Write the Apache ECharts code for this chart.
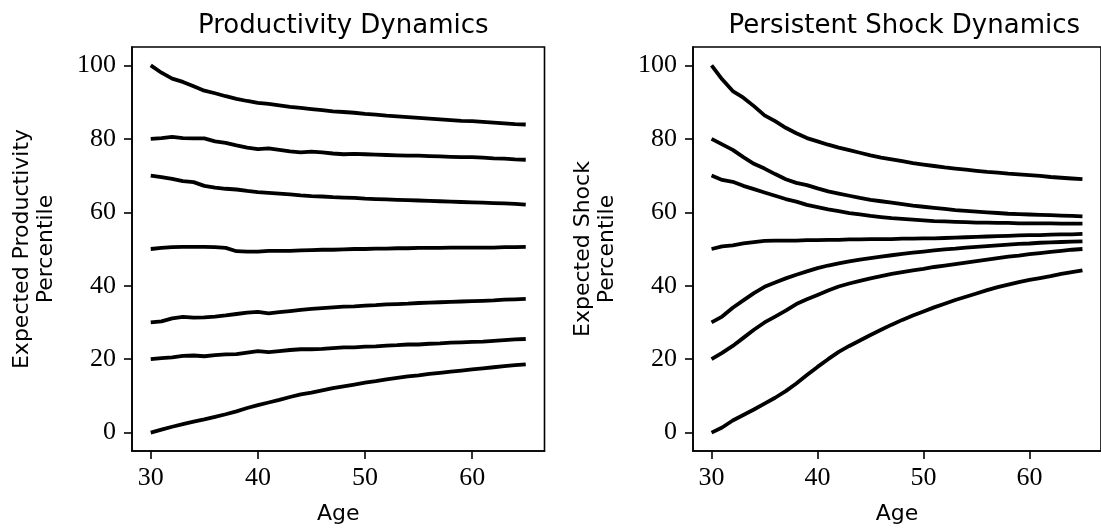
<!DOCTYPE html>
<html>
<head>
<meta charset="utf-8">
<script src="https://cdn.jsdelivr.net/npm/echarts@6/dist/echarts.min.js"></script>
<style>
html,body{margin:0;padding:0;background:#fff;}
#chart{width:1101px;height:531px;}
</style>
</head>
<body>
<div id="chart"></div>
<script>
const ages = [30,31,32,33,34,35,36,37,38,39,40,41,42,43,44,45,46,47,48,49,50,51,52,53,54,55,56,57,58,59,60,61,62,63,64,65];

// Productivity Dynamics (left panel)
const prod100 = [100,98,96.4,95.5,94.3,93.1,92.4,91.6,90.9,90.3,89.8,89.5,89.1,88.7,88.4,88.1,87.8,87.5,87.3,87.1,86.8,86.6,86.3,86.1,85.9,85.7,85.5,85.3,85.1,84.9,84.8,84.6,84.4,84.2,84.0,83.9];
const prod80 = [80,80.2,80.5,80.2,80.1,80.1,79.3,78.9,78.2,77.6,77.2,77.4,77.0,76.6,76.3,76.5,76.3,76.0,75.8,75.9,75.8,75.7,75.6,75.5,75.4,75.4,75.3,75.2,75.1,75.0,75.0,74.9,74.7,74.6,74.4,74.3];
const prod70 = [70,69.6,69.1,68.5,68.2,67.2,66.7,66.4,66.2,65.8,65.5,65.3,65.1,64.9,64.6,64.4,64.3,64.1,64.0,63.9,63.7,63.6,63.5,63.4,63.3,63.2,63.1,63.0,62.9,62.8,62.7,62.6,62.5,62.4,62.3,62.1];
const prod50 = [50,50.3,50.5,50.6,50.6,50.6,50.5,50.3,49.4,49.3,49.3,49.5,49.5,49.5,49.6,49.7,49.8,49.8,49.9,50.0,50.0,50.1,50.1,50.2,50.2,50.3,50.3,50.3,50.4,50.4,50.4,50.4,50.4,50.5,50.5,50.6];
const prod30 = [30,30.3,31.1,31.5,31.3,31.4,31.6,31.9,32.3,32.7,32.9,32.5,32.8,33.1,33.4,33.7,33.9,34.1,34.3,34.4,34.6,34.7,34.9,35.0,35.1,35.3,35.4,35.5,35.6,35.7,35.8,35.9,36.0,36.2,36.3,36.4];
const prod20 = [20,20.3,20.5,20.9,21.0,20.8,21.1,21.3,21.4,21.8,22.2,21.9,22.2,22.5,22.7,22.7,22.8,23.0,23.2,23.2,23.4,23.5,23.7,23.8,24.0,24.0,24.2,24.3,24.5,24.6,24.7,24.8,25.0,25.2,25.4,25.5];
const prod0 = [0,0.8,1.6,2.3,3.0,3.6,4.3,5.0,5.8,6.7,7.5,8.2,8.9,9.7,10.4,10.9,11.5,12.1,12.6,13.1,13.6,14.0,14.5,14.9,15.3,15.6,16.0,16.3,16.6,16.9,17.2,17.5,17.8,18.1,18.4,18.6];

// Persistent Shock Dynamics (right panel)
const shock100 = [100,96.2,93.0,91.2,88.9,86.4,84.8,83.0,81.5,80.2,79.3,78.4,77.6,76.9,76.2,75.5,74.9,74.4,73.9,73.4,73.0,72.6,72.2,71.9,71.6,71.3,71.0,70.8,70.5,70.3,70.1,69.9,69.6,69.4,69.2,69.0];
const shock80 = [80,78.5,77.0,75.0,73.2,71.9,70.4,69.0,68.0,67.4,66.5,65.7,65.1,64.5,63.9,63.4,63.0,62.6,62.2,61.8,61.5,61.2,60.9,60.6,60.4,60.2,60.0,59.8,59.6,59.5,59.4,59.3,59.2,59.1,59.0,58.9];
const shock70 = [70,68.8,68.3,67.2,66.3,65.4,64.5,63.6,62.9,62.0,61.4,60.8,60.3,59.8,59.4,59.0,58.7,58.4,58.2,58.0,57.8,57.6,57.5,57.4,57.3,57.2,57.2,57.1,57.1,57.0,57.0,57.0,57.0,56.9,56.9,56.9];
const shock50 = [50,50.7,51.0,51.5,51.9,52.2,52.3,52.3,52.3,52.4,52.4,52.5,52.5,52.6,52.6,52.7,52.7,52.7,52.8,52.8,52.9,52.9,53.0,53.1,53.2,53.3,53.4,53.5,53.6,53.7,53.8,53.8,53.9,54.0,54.0,54.1];
const shock30 = [30,31.6,34.0,36.0,38.0,39.7,40.9,42.0,43.0,43.9,44.8,45.5,46.1,46.6,47.1,47.5,47.9,48.3,48.7,49.0,49.3,49.6,49.9,50.1,50.4,50.6,50.8,51.0,51.2,51.4,51.5,51.7,51.8,51.9,52.0,52.1];
const shock20 = [20,21.7,23.6,25.8,28.0,30.0,31.6,33.2,35.0,36.3,37.5,38.7,39.8,40.6,41.3,42.0,42.6,43.2,43.7,44.2,44.6,45.1,45.5,45.9,46.3,46.7,47.1,47.5,47.9,48.2,48.6,48.9,49.2,49.5,49.8,50.0];
const shock0 = [0,1.4,3.3,4.8,6.3,7.9,9.5,11.3,13.4,15.7,17.9,20.0,22.0,23.6,25.1,26.6,28.0,29.4,30.7,31.9,33.0,34.1,35.1,36.1,37.0,37.9,38.8,39.6,40.3,41.0,41.6,42.1,42.6,43.2,43.7,44.2];

const xTicks = [30,40,50,60];
const yTicks = [0,20,40,60,80,100];
const titles = ['Productivity Dynamics','Persistent Shock Dynamics'];
const yNames = ['Expected Productivity\nPercentile','Expected Shock\nPercentile'];
const xName = 'Age';

const leftLines = [prod100,prod80,prod70,prod50,prod30,prod20,prod0];
const rightLines = [shock100,shock80,shock70,shock50,shock30,shock20,shock0];

const serifFont = '"Liberation Serif", "DejaVu Serif", serif';
const sansFont = '"DejaVu Sans", sans-serif';

const grids = [
  {left:132, top:47, width:412.5, height:404},
  {left:693, top:47, width:412.5, height:404}
];

function makeX(i){
  return {
    type:'value', gridIndex:i, min:28.25, max:66.75,
    name:xName, nameLocation:'middle', nameGap:52,
    nameTextStyle:{fontFamily:sansFont, fontSize:22, color:'#000'},
    axisLine:{show:true, onZero:false, lineStyle:{color:'#000', width:1.6}},
    axisTick:{show:true, inside:false, length:8, lineStyle:{color:'#000', width:1.6}, customValues:xTicks},
    axisLabel:{show:true, margin:14, fontFamily:serifFont, fontSize:26, color:'#000', customValues:xTicks},
    splitLine:{show:false}
  };
}
function makeY(i){
  return {
    type:'value', gridIndex:i, min:-5, max:105,
    name:yNames[i], nameLocation:'middle', nameRotate:90, nameGap:74,
    nameTextStyle:{fontFamily:sansFont, fontSize:22, color:'#000', lineHeight:24, align:'center'},
    axisLine:{show:true, onZero:false, lineStyle:{color:'#000', width:1.6}},
    axisTick:{show:true, inside:false, length:8, lineStyle:{color:'#000', width:1.6}, customValues:yTicks},
    axisLabel:{show:true, margin:16, fontFamily:serifFont, fontSize:26, color:'#000', customValues:yTicks},
    splitLine:{show:false}
  };
}

const series = [];
[leftLines, rightLines].forEach((lines, gi) => {
  lines.forEach(vals => {
    series.push({
      type:'line', xAxisIndex:gi, yAxisIndex:gi,
      data: ages.map((a, k) => [a, vals[k]]),
      showSymbol:false, symbol:'none', smooth:false, silent:true,
      lineStyle:{color:'#000', width:3.8, cap:'butt', join:'round'},
      animation:false
    });
  });
});

const chart = echarts.init(document.getElementById('chart'), null, {renderer:'canvas'});
chart.setOption({
  animation:false,
  backgroundColor:'#fff',
  title: titles.map((t, i) => ({
    text:t, left: grids[i].left + grids[i].width/2, top:8, textAlign:'center',
    textStyle:{fontFamily:sansFont, fontSize:26, fontWeight:'normal', color:'#000'}
  })),
  grid: grids.map(g => Object.assign({show:true, borderColor:'#000', borderWidth:1.6, backgroundColor:'transparent', containLabel:false}, g)),
  xAxis:[makeX(0), makeX(1)],
  yAxis:[makeY(0), makeY(1)],
  series: series
});
</script>
</body>
</html>
